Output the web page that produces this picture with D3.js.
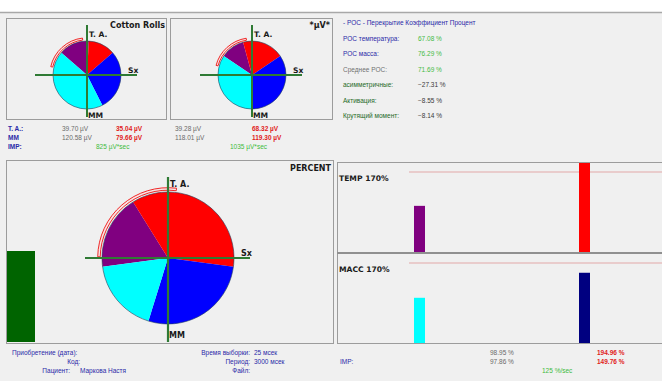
<!DOCTYPE html>
<html><head><meta charset="utf-8">
<script src="https://cdn.jsdelivr.net/npm/d3@7"></script>
<style>body{margin:0;background:#f0f0f0}svg{display:block}</style>
</head><body><svg id="c" width="662" height="381"></svg>
<script>
// ---------- data ----------
const sliceKeys = ["T. A. L", "T. A. R", "MM R", "MM L"];
const sliceColors = ["#800080", "#ff0000", "#0000ff", "#00ffff"];
const cottonRollsValues = [39.70, 35.04, 79.66, 120.58];
const microvoltValues = [39.28, 68.32, 119.30, 118.01];
const percentValues = [98.95, 194.96, 149.76, 97.86];
const cottonArcDeg = [-77, -7];
const microvoltArcDeg = [-75, -9];
const percentArcDeg = [-89, 7];

const barSides = ["L", "R"];
const tempBarValues = [98.95, 194.96];
const tempBarColors = ["#800080", "#ff0000"];
const massBarValues = [97.86, 149.76];
const massBarColors = ["#00ffff", "#000080"];
const referenceLevel = 170;
const greenBarValue = [125];

const impValues = [825, 1035];
const pocLabels = ["РОС температура:", "РОС масса:", "Среднее РОС:", "асимметричные:", "Активация:", "Крутящий момент:"];
const pocValues = [67.08, 76.29, 71.69, -27.31, -8.55, -8.14];
const pocLabelColors = ["#2a2aa8", "#2a2aa8", "#707070", "#1f6a1f", "#1f6a1f", "#1f6a1f"];
const pocValueColors = ["#44bb44", "#44bb44", "#44bb44", "#3a3a3a", "#3a3a3a", "#3a3a3a"];

// ---------- drawing ----------
const svg = d3.select("#c");
const SMALL = "'Liberation Sans', Arial, sans-serif";
const BOLD = "'DejaVu Sans', Verdana, sans-serif";
const rad = d => d * Math.PI / 180;

svg.append("rect").attr("width", 662).attr("height", 381).attr("fill", "#f0f0f0");
svg.append("rect").attr("width", 662).attr("height", 12).attr("fill", "#ffffff");
svg.append("line").attr("x1", 0).attr("x2", 662).attr("y1", 12.5).attr("y2", 12.5)
  .attr("stroke", "#a8a8a8").attr("stroke-width", 1.5);

function panel(x, y, w, h) {
  svg.append("rect").attr("x", x + 0.5).attr("y", y + 0.5).attr("width", w).attr("height", h)
    .attr("fill", "#f0f0f0").attr("stroke", "#9c9c9c").attr("stroke-width", 1);
}
panel(6, 18, 160, 101);
panel(170, 18, 162, 101);
panel(6, 160, 327, 183);
panel(337, 162, 340, 181);

function txt(x, y, s, opt) {
  opt = opt || {};
  return svg.append("text").attr("x", x).attr("y", y).text(s)
    .attr("font-family", opt.bold ? BOLD : SMALL)
    .attr("font-weight", opt.bold || opt.w ? "bold" : "normal")
    .attr("font-size", opt.size || 6.5)
    .attr("fill", opt.color || "#222")
    .attr("text-anchor", opt.anchor || "start");
}

function drawPie(values, cx, cy, r, arcDeg, lay) {
  const g = svg.append("g").attr("transform", `translate(${cx},${cy})`);
  const total = d3.sum(values);
  const start = -((values[0] + values[1]) / total) * Math.PI;
  const pie = d3.pie().sort(null).value(d => d).startAngle(start).endAngle(start + 2 * Math.PI);
  const arc = d3.arc().innerRadius(0).outerRadius(r);
  g.selectAll("path.s").data(pie(values)).join("path").attr("class", "s")
    .attr("d", arc).attr("fill", (d, i) => sliceColors[i]);
  g.append("circle").attr("r", r).attr("fill", "none").attr("stroke", "#23405a").attr("stroke-width", 0.6);
  const band = d3.arc()({innerRadius: r + lay.arcIn, outerRadius: r + lay.arcOut,
    startAngle: rad(arcDeg[0]), endAngle: rad(arcDeg[1])});
  g.append("path").attr("d", band).attr("fill", "#f8e4e4").attr("stroke", "#ee1111").attr("stroke-width", 0.9);
  g.append("line").attr("x1", -lay.hl).attr("x2", lay.hr).attr("y1", 0).attr("y2", 0)
    .attr("stroke", "#2f7a34").attr("stroke-width", lay.sw);
  g.append("line").attr("x1", 0).attr("x2", 0).attr("y1", -lay.vt).attr("y2", lay.vb)
    .attr("stroke", "#2f7a34").attr("stroke-width", lay.sw);
  const lab = (x, y, s) => g.append("text").attr("x", x).attr("y", y).text(s)
    .attr("font-family", BOLD).attr("font-weight", "bold").attr("font-size", lay.fs).attr("fill", "#1a1a1a");
  lab(2, -r - lay.taOff, "T. A.");
  lab(r + 7, -2, "Sx");
  lab(1, lay.mmY, "MM");
}

const smallLay = {arcIn: 1.2, arcOut: 3.2, hl: 52, hr: 50, vt: 50, vb: 42, sw: 2, fs: 7.6, taOff: 4, mmY: 43};
drawPie(cottonRollsValues, 87, 75, 34, cottonArcDeg, smallLay);
drawPie(microvoltValues, 252, 75, 34, microvoltArcDeg, smallLay);
drawPie(percentValues, 168, 258, 66, percentArcDeg,
  {arcIn: 1.8, arcOut: 4.3, hl: 83, hr: 82, vt: 81, vb: 84, sw: 2.2, fs: 8, taOff: 5, mmY: 80});

txt(165, 28, "Cotton Rolls", {bold: true, size: 8, anchor: "end", color: "#1a1a1a"});
txt(330, 28, "*µV*", {bold: true, size: 8, anchor: "end", color: "#1a1a1a"});
txt(331, 171, "PERCENT", {bold: true, size: 8, anchor: "end", color: "#1a1a1a"});

// green bar
const gY = d3.scaleLinear().domain([0, 250]).range([342, 160]);
svg.selectAll("rect.gb").data(greenBarValue).join("rect").attr("class", "gb")
  .attr("x", 7).attr("width", 28).attr("y", d => gY(d)).attr("height", d => gY(0) - gY(d))
  .attr("fill", "#006400");

// bar panels
svg.append("clipPath").attr("id", "cp").append("rect").attr("x", 338).attr("y", 163).attr("width", 330).attr("height", 180);
const bx = d3.scalePoint().domain(barSides).range([419.5, 584.5]);
function barPanel(values, colors, base, top, title, titleY) {
  const y = d3.scaleLinear().domain([0, referenceLevel]).range([base, top]);
  const g = svg.append("g").attr("clip-path", "url(#cp)");
  g.append("line").attr("x1", 409).attr("x2", 662).attr("y1", y(referenceLevel)).attr("y2", y(referenceLevel))
    .attr("stroke", "#e2a8a8").attr("stroke-width", 1);
  g.selectAll("rect").data(values).join("rect")
    .attr("x", (d, i) => bx(barSides[i]) - 5.5).attr("width", 11)
    .attr("y", d => y(d)).attr("height", d => y(0) - y(d)).attr("fill", (d, i) => colors[i]);
  txt(339, titleY, title, {bold: true, size: 7.6, color: "#1a1a1a"});
}
barPanel(tempBarValues, tempBarColors, 253, 172, "TEMP 170%", 181);
svg.append("line").attr("x1", 337).attr("x2", 662).attr("y1", 253).attr("y2", 253)
  .attr("stroke", "#909090").attr("stroke-width", 2);
barPanel(massBarValues, massBarColors, 345, 263, "MACC 170%", 272);

// rows under top pies
const fmt = d3.format(".2f");
const blue = "#2a2aa8", gray = "#6a6a6a", red = "#e01b1b", green = "#3dbb3d";
const rowsY = [131, 140, 149];
txt(8, rowsY[0], "T. A.:", {w: true, color: blue});
txt(8, rowsY[1], "MM", {w: true, color: blue});
txt(8, rowsY[2], "IMP:", {w: true, color: blue});
[[cottonRollsValues, 62, 116], [microvoltValues, 175, 252]].forEach(([v, xl, xr]) => {
  txt(xl, rowsY[0], fmt(v[0]) + " µV", {color: gray});
  txt(xl, rowsY[1], fmt(v[3]) + " µV", {color: gray});
  txt(xr, rowsY[0], fmt(v[1]) + " µV", {color: red, w: true});
  txt(xr, rowsY[1], fmt(v[2]) + " µV", {color: red, w: true});
});
txt(96, rowsY[2], impValues[0] + " µV*sec", {color: green});
txt(230, rowsY[2], impValues[1] + " µV*sec", {color: green});

// POC text panel
txt(343, 25, " - РОС - Перекрытие Коэффициент Процент", {color: blue});
pocLabels.forEach((l, i) => {
  const y = 41 + i * 15.4;
  txt(343, y, l, {color: pocLabelColors[i]});
  txt(418, y, fmt(pocValues[i]) + " %", {color: pocValueColors[i]});
});

// bottom info
const bY = [355, 364, 373];
txt(12, bY[0], "Приобретение (дата):", {color: blue});
txt(80, bY[1], "Код:", {color: blue, anchor: "end"});
txt(70, bY[2], "Пациент:", {color: blue, anchor: "end"});
txt(80, bY[2], "Маркова  Настя", {color: blue});
txt(250, bY[0], "Время выборки:", {color: blue, anchor: "end"});
txt(254, bY[0], "25 мсек", {color: blue});
txt(250, bY[1], "Период:", {color: blue, anchor: "end"});
txt(254, bY[1], "3000 мсек", {color: blue});
txt(250, bY[2], "Файл:", {color: blue, anchor: "end"});
txt(340, bY[1], "IMP:", {color: blue});
txt(490, bY[0], fmt(percentValues[0]) + " %", {color: gray});
txt(490, bY[1], fmt(percentValues[3]) + " %", {color: gray});
txt(597, bY[0], fmt(percentValues[1]) + " %", {color: red, w: true});
txt(597, bY[1], fmt(percentValues[2]) + " %", {color: red, w: true});
txt(542, bY[2], greenBarValue[0] + " %/sec", {color: green});
</script></body></html>
